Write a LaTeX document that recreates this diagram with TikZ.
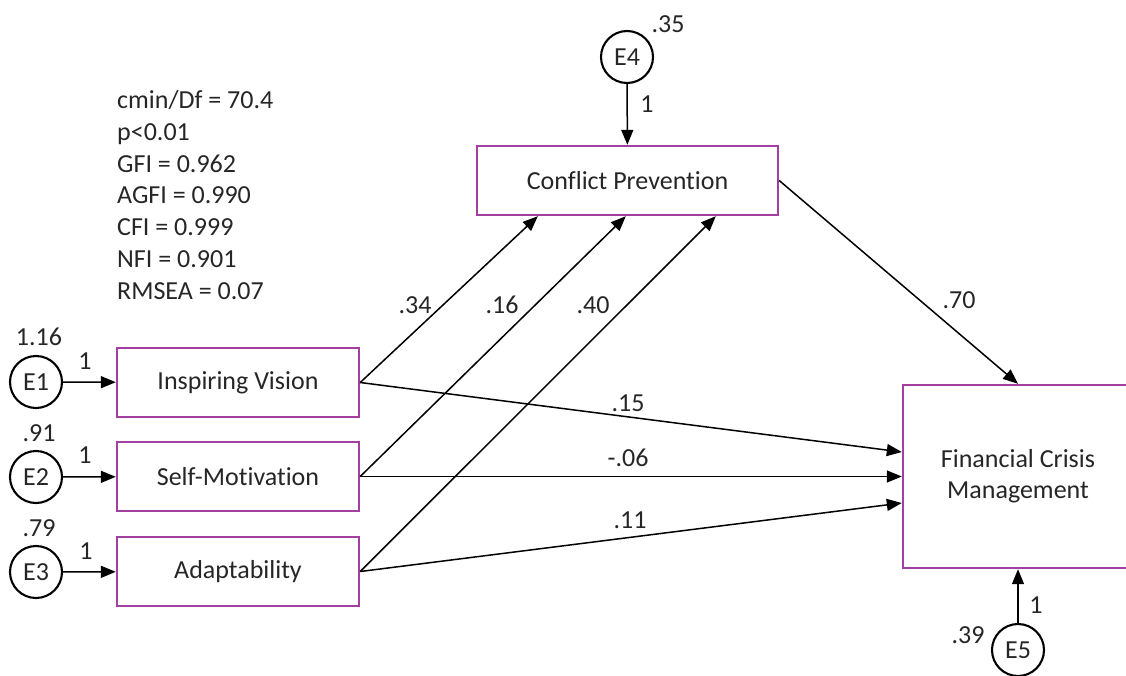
\documentclass[tikz,border=0pt]{standalone}
\usepackage{fontspec}
\setmainfont[Ligatures=NoCommon]{Carlito}
\usetikzlibrary{arrows.meta,calc}
\definecolor{boxpurple}{HTML}{A23FA0}
\begin{document}
\begin{tikzpicture}[x=1pt,y=-1pt,
  every node/.style={font=\fontsize{26}{31}\selectfont, text=black!85},
  var/.style={draw=boxpurple, line width=2.4pt, rectangle, inner sep=0pt, align=center},
  err/.style={draw=black, line width=2.1pt, circle, minimum size=52pt, inner sep=0pt},
  lbl/.style={inner sep=0pt},
  arr/.style={-{Triangle[length=15pt,width=12pt]}, line width=1.5pt, black}
]
\useasboundingbox (0,0) rectangle (1126,675);
% variables
\node[var, minimum width=242pt, minimum height=69pt] (IV) at (238,382.5) {Inspiring Vision};
\node[var, minimum width=242pt, minimum height=69pt] (SM) at (238,476.5) {Self-Motivation};
\node[var, minimum width=242pt, minimum height=69pt] (AD) at (238,571.5) {Adaptability};
\node[var, minimum width=301pt, minimum height=69pt] (CP) at (627.5,180.5) {Conflict Prevention};
\node[var, minimum width=230pt, minimum height=183pt] (FCM) at (1018,476.5) {Financial Crisis\\Management};
% errors
\node[err] (E1) at (36,382) {E1};
\node[err] (E2) at (36,477) {E2};
\node[err] (E3) at (36,572) {E3};
\node[err] (E4) at (627,57) {E4};
\node[err] (E5) at (1018,650) {E5};
% error labels
\node[lbl] (v1) at (39,337) {1.16};
\node[lbl] (v2) at (39,433) {.91};
\node[lbl] (v3) at (39,528) {.79};
\node[lbl] (v4) at (668,24) {.35};
\node[lbl] (v5) at (968,635) {.39};
\node[lbl] (w1) at (85,361) {1};
\node[lbl] (w2) at (85,455) {1};
\node[lbl] (w3) at (86,551) {1};
\node[lbl] (w4) at (647,104) {1};
\node[lbl] (w5) at (1036,605) {1};
% fit indices
\node[lbl, anchor=west, align=left, font=\fontsize{26}{31.8}\selectfont] (fit) at (117,195) {cmin/Df = 70.4\\p<0.01\\GFI = 0.962\\AGFI = 0.990\\CFI = 0.999\\NFI = 0.901\\RMSEA = 0.07};
% anchor coordinates
\coordinate (cp1) at ([xshift=62pt]CP.south west);
\coordinate (cp2) at ([xshift=150pt]CP.south west);
\coordinate (cp3) at ([xshift=240pt]CP.south west);
\coordinate (f1) at ([yshift=24.5pt]FCM.west);
\coordinate (f2) at (FCM.west);
\coordinate (f3) at ([yshift=-26.5pt]FCM.west);
% arrows
\draw[arr] (E1) -- (IV);
\draw[arr] (E2) -- (SM);
\draw[arr] (E3) -- (AD);
\draw[arr] (E4) -- (CP);
\draw[arr] (E5) -- (FCM.south);
\draw[arr] (IV.east) -- (cp1);
\draw[arr] (SM.east) -- (cp2);
\draw[arr] (AD.east) -- (cp3);
\draw[arr] (IV.east) -- (f1);
\draw[arr] (SM.east) -- (f2);
\draw[arr] (AD.east) -- (f3);
\draw[arr] (CP.east) -- (FCM.north);
% path labels
\node[lbl] (l34) at (415,305) {.34};
\node[lbl] (l16) at (502,305) {.16};
\node[lbl] (l40) at (593,305) {.40};
\node[lbl] (l70) at (959,300) {.70};
\node[lbl] (l15) at (628,403) {.15};
\node[lbl] (l06) at (628,458) {-.06};
\node[lbl] (l11) at (630,520) {.11};
\end{tikzpicture}
\end{document}
